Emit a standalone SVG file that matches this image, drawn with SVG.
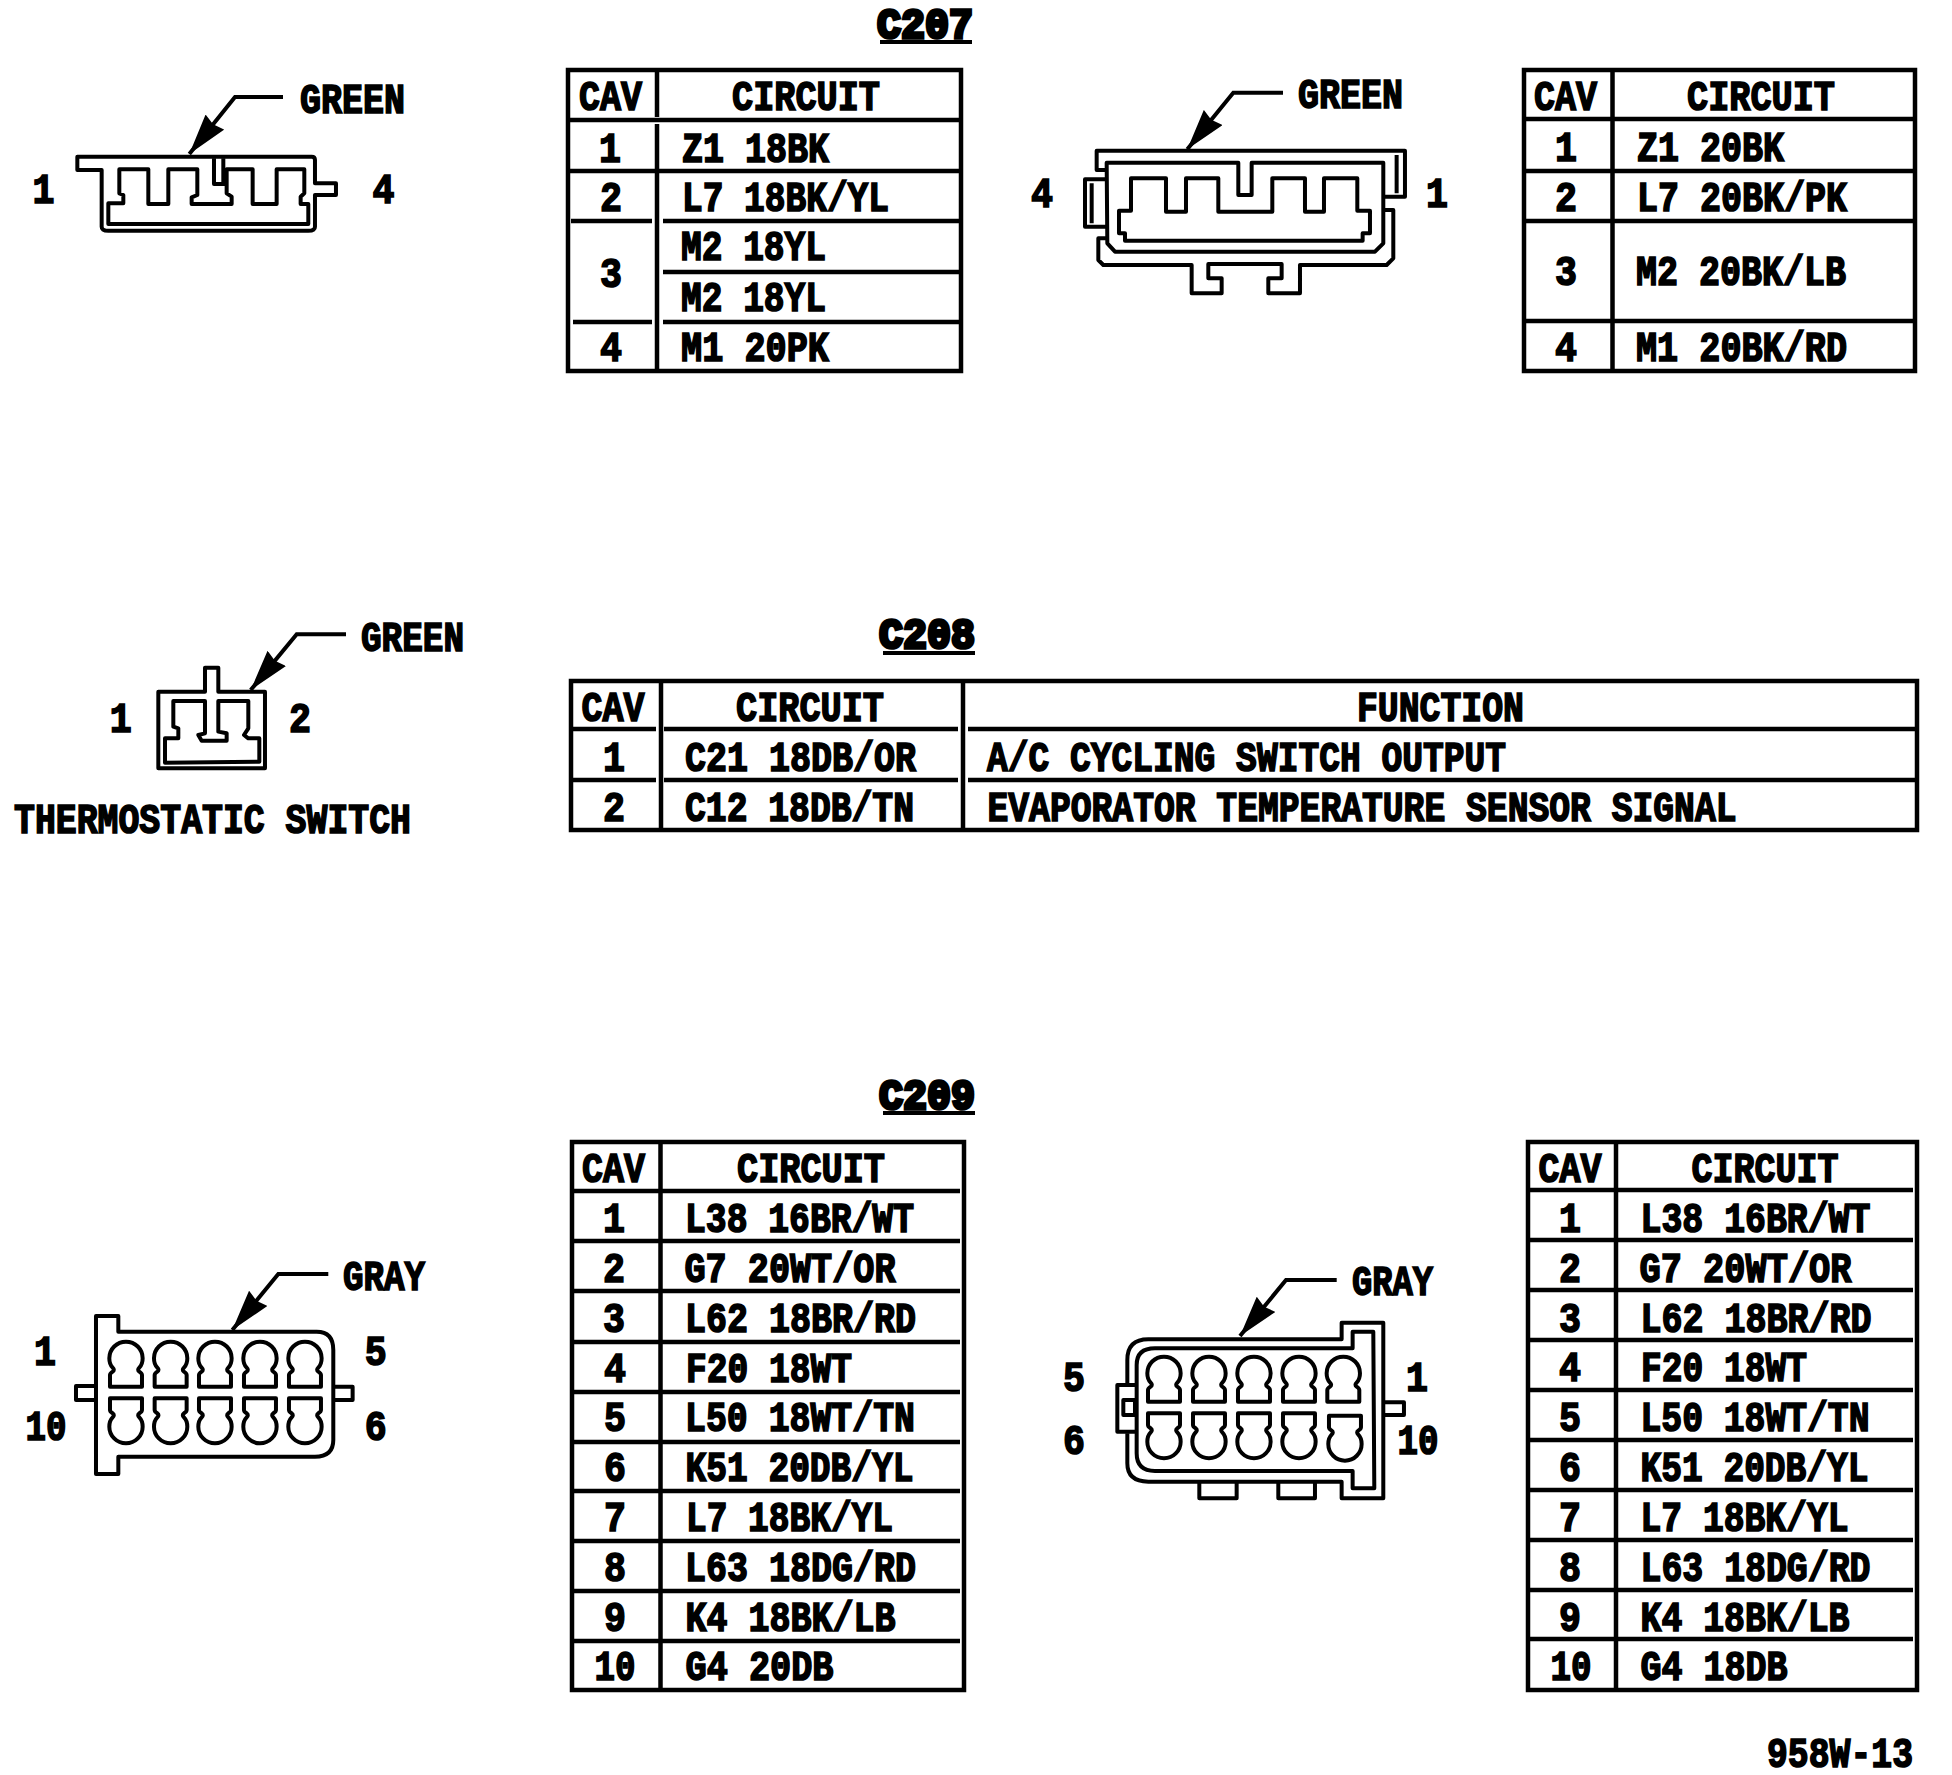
<svg xmlns="http://www.w3.org/2000/svg" xmlns:xlink="http://www.w3.org/1999/xlink" width="1952" height="1775" viewBox="0 0 1952 1775">
<style>
text{font-family:"Liberation Mono","DejaVu Sans Mono",monospace;font-weight:700;font-size:42px;fill:#000;stroke:#000;stroke-width:1.7}
.m{text-anchor:middle}
.h{stroke-width:3.6}
.tb{fill:none;stroke:#000;stroke-width:4.5}
.sh{fill:none;stroke:#000;stroke-width:12;stroke-linejoin:round}
.ld{fill:none;stroke:#000;stroke-width:4;marker-end:url(#ah)}
.ul{fill:none;stroke:#000;stroke-width:4}
</style>
<defs>
<marker id="ah" viewBox="0 0 41 24" refX="41" refY="12" markerWidth="41" markerHeight="24" markerUnits="userSpaceOnUse" orient="auto"><polygon points="0,0 41,12 0,24 3,12" fill="#000"/></marker>
<path id="key" d="M-48 135V100Q-48 95 -40 90Q-33 85 -40 78Q-50 68 -50 50A50 50 0 1 1 50 50Q50 68 40 78Q33 85 40 90Q48 95 48 100V135Z"/>
</defs>
<rect width="1952" height="1775" fill="#fff"/>

<g id="title-c207"><text class="h" x="877" y="38" textLength="96" lengthAdjust="spacingAndGlyphs">C207</text><path class="ul" d="M880 42H972"/></g>
<g id="title-c208"><text class="h" x="879" y="648" textLength="96" lengthAdjust="spacingAndGlyphs">C208</text><path class="ul" d="M883 653H975"/></g>
<g id="title-c209"><text class="h" x="879" y="1109" textLength="96" lengthAdjust="spacingAndGlyphs">C209</text><path class="ul" d="M883 1113H975"/></g>

<g id="connectors">
<path class="ld" d="M283 97H235L189.3 154"/>
<path class="ld" d="M1283 92.7H1233.3L1187.3 149.3"/>
<path class="ld" d="M346 634.3H296.7L250.7 690"/>
<path class="ld" d="M328.3 1274H278.3L232.3 1330"/>
<path class="ld" d="M1336.7 1280H1286L1240 1336"/>
</g>

<g id="conn-c207-left">
<g transform="translate(60 80) scale(.3333)">
<path class="sh" d="M52 230H755Q765 230 765 240V310H828V345H765V440Q765 452 745 452H145Q125 452 125 440V270H52Z"/>
<path class="sh" d="M145 432V370H190V345L178 340V268H265V372H325V268H412V345L395 352V372H515V350L500 340V268H578V372H650V268H733V340L722 350V372H745V432Z"/>
<path class="sh" d="M462 235V312H500M490 235V312"/>
</g>
<text x="300" y="113" textLength="105" lengthAdjust="spacingAndGlyphs">GREEN</text>
<text class="m" x="43.6" y="203" textLength="22" lengthAdjust="spacingAndGlyphs">1</text>
<text class="m" x="383.5" y="203" textLength="22" lengthAdjust="spacingAndGlyphs">4</text>
</g>

<g id="table-c207-a">
<rect class="tb" x="568" y="70" width="393" height="301"/>
<path class="tb" d="M657 70V117M657 124V371M570 120H959M570 171H959M571 221H652M663 221H959M663 272H959M573 322H652M663 322H959"/>
<text x="579" y="110" textLength="63" lengthAdjust="spacingAndGlyphs">CAV</text>
<text x="732" y="110" textLength="148" lengthAdjust="spacingAndGlyphs">CIRCUIT</text>
<text class="m" x="610" y="162" textLength="22" lengthAdjust="spacingAndGlyphs">1</text>
<text x="682" y="162" textLength="147" lengthAdjust="spacingAndGlyphs">Z1 18BK</text>
<text class="m" x="611" y="211" textLength="22" lengthAdjust="spacingAndGlyphs">2</text>
<text x="682" y="211" textLength="207" lengthAdjust="spacingAndGlyphs">L7 18BK/YL</text>
<text class="m" x="611" y="287" textLength="22" lengthAdjust="spacingAndGlyphs">3</text>
<text x="681" y="260" textLength="145" lengthAdjust="spacingAndGlyphs">M2 18YL</text>
<text x="681" y="311" textLength="145" lengthAdjust="spacingAndGlyphs">M2 18YL</text>
<text class="m" x="611" y="361" textLength="22" lengthAdjust="spacingAndGlyphs">4</text>
<text x="681" y="361" textLength="148" lengthAdjust="spacingAndGlyphs">M1 20PK</text>
</g>

<g id="conn-c207-right">
<g transform="translate(1070 80) scale(.3333)">
<path class="sh" d="M110 270H80V212H1005V350H945M980 225V340M110 298H45V440H110M65 310V430M110 475H85V540L100 555H365V640H455V595H415V552H635V595H595V640H690V555H950L970 535V390H945"/>
<path class="sh" d="M110 248H505V345H545V248H940V490L915 515H135L112 490Z"/>
<path class="sh" d="M183 295H288V395H348V295H445V395H607V295H705V395H762V295H862V392H900V460H878V482H165V460H147V392H183Z"/>
</g>
<text x="1298" y="108" textLength="105" lengthAdjust="spacingAndGlyphs">GREEN</text>
<text class="m" x="1042" y="207" textLength="22" lengthAdjust="spacingAndGlyphs">4</text>
<text class="m" x="1437" y="207" textLength="22" lengthAdjust="spacingAndGlyphs">1</text>
</g>

<g id="table-c207-b">
<rect class="tb" x="1524" y="70" width="391" height="301"/>
<path class="tb" d="M1612.5 70V371M1524 119H1915M1524 171H1915M1524 221H1915M1524 321H1915"/>
<text x="1534" y="110" textLength="63" lengthAdjust="spacingAndGlyphs">CAV</text>
<text x="1687" y="110" textLength="148" lengthAdjust="spacingAndGlyphs">CIRCUIT</text>
<text class="m" x="1566" y="161" textLength="22" lengthAdjust="spacingAndGlyphs">1</text>
<text x="1637" y="161" textLength="147" lengthAdjust="spacingAndGlyphs">Z1 20BK</text>
<text class="m" x="1566" y="211" textLength="22" lengthAdjust="spacingAndGlyphs">2</text>
<text x="1637" y="211" textLength="210" lengthAdjust="spacingAndGlyphs">L7 20BK/PK</text>
<text class="m" x="1566" y="285" textLength="22" lengthAdjust="spacingAndGlyphs">3</text>
<text x="1636" y="285" textLength="210" lengthAdjust="spacingAndGlyphs">M2 20BK/LB</text>
<text class="m" x="1566" y="361" textLength="22" lengthAdjust="spacingAndGlyphs">4</text>
<text x="1636" y="361" textLength="211" lengthAdjust="spacingAndGlyphs">M1 20BK/RD</text>
</g>

<g id="conn-thermostatic">
<g transform="translate(100 620) scale(.3333)">
<path class="sh" d="M315 215V143H355V215H495V445H175V215Z"/>
<path class="sh" d="M195 428V355H235V325L220 320V243H315V340L295 345L305 362H380V340L355 335V243H445V325L432 345L445 355H478V425Z"/>
</g>
<text x="361" y="651" textLength="103" lengthAdjust="spacingAndGlyphs">GREEN</text>
<text class="m" x="120.8" y="732" textLength="22" lengthAdjust="spacingAndGlyphs">1</text>
<text class="m" x="300" y="732" textLength="22" lengthAdjust="spacingAndGlyphs">2</text>
<text x="14" y="833" textLength="397" lengthAdjust="spacingAndGlyphs">THERMOSTATIC SWITCH</text>
</g>

<g id="table-c208">
<rect class="tb" x="571" y="681" width="1346" height="149"/>
<path class="tb" d="M661 681V830M963 681V830M573 729H656M664 729H958M968 729H1915M573 780H656M664 780H958M968 780H1915"/>
<text x="581.5" y="721" textLength="63" lengthAdjust="spacingAndGlyphs">CAV</text>
<text x="736" y="721" textLength="148" lengthAdjust="spacingAndGlyphs">CIRCUIT</text>
<text x="1357" y="721" textLength="167" lengthAdjust="spacingAndGlyphs">FUNCTION</text>
<text class="m" x="614" y="771" textLength="22" lengthAdjust="spacingAndGlyphs">1</text>
<text x="685" y="771" textLength="231" lengthAdjust="spacingAndGlyphs">C21 18DB/OR</text>
<text x="987" y="771" textLength="519" lengthAdjust="spacingAndGlyphs">A/C CYCLING SWITCH OUTPUT</text>
<text class="m" x="614" y="821" textLength="22" lengthAdjust="spacingAndGlyphs">2</text>
<text x="685" y="821" textLength="229" lengthAdjust="spacingAndGlyphs">C12 18DB/TN</text>
<text x="987.5" y="821" textLength="749" lengthAdjust="spacingAndGlyphs">EVAPORATOR TEMPERATURE SENSOR SIGNAL</text>
</g>

<g id="conn-c209-left">
<g transform="translate(0 1240) scale(.3333)">
<path class="sh" d="M288 228H355V275H950Q1000 275 1000 330V600Q1000 650 945 650H355V702H288Z"/>
<path class="sh" d="M285 438H228V480H285M1005 440H1058V480H1005"/>
<use class="sh" xlink:href="#key" href="#key" transform="translate(378 305)"/>
<use class="sh" xlink:href="#key" href="#key" transform="translate(512 305)"/>
<use class="sh" xlink:href="#key" href="#key" transform="translate(645 305)"/>
<use class="sh" xlink:href="#key" href="#key" transform="translate(780 305)"/>
<use class="sh" xlink:href="#key" href="#key" transform="translate(915 305)"/>
<use class="sh" xlink:href="#key" href="#key" transform="translate(378 610) scale(1 -1)"/>
<use class="sh" xlink:href="#key" href="#key" transform="translate(512 610) scale(1 -1)"/>
<use class="sh" xlink:href="#key" href="#key" transform="translate(645 610) scale(1 -1)"/>
<use class="sh" xlink:href="#key" href="#key" transform="translate(780 610) scale(1 -1)"/>
<use class="sh" xlink:href="#key" href="#key" transform="translate(915 610) scale(1 -1)"/>
</g>
<text x="343" y="1290" textLength="82" lengthAdjust="spacingAndGlyphs">GRAY</text>
<text class="m" x="45" y="1365" textLength="22" lengthAdjust="spacingAndGlyphs">1</text>
<text class="m" x="46" y="1440" textLength="41" lengthAdjust="spacingAndGlyphs">10</text>
<text class="m" x="375.7" y="1365" textLength="22" lengthAdjust="spacingAndGlyphs">5</text>
<text class="m" x="375.7" y="1440" textLength="22" lengthAdjust="spacingAndGlyphs">6</text>
</g>

<g id="table-c209-a">
<rect class="tb" x="572" y="1142" width="392" height="548"/>
<path class="tb" d="M660.5 1142V1690M574 1191H960M574 1241H960M574 1291H960M574 1342H960M574 1392H960M574 1442H960M574 1491H960M574 1541H960M574 1591H960M574 1641H960"/>
<text x="582" y="1182" textLength="63" lengthAdjust="spacingAndGlyphs">CAV</text>
<text x="737" y="1182" textLength="148" lengthAdjust="spacingAndGlyphs">CIRCUIT</text>
<text class="m" x="614" y="1232" textLength="22" lengthAdjust="spacingAndGlyphs">1</text>
<text x="685" y="1232" textLength="229" lengthAdjust="spacingAndGlyphs">L38 16BR/WT</text>
<text class="m" x="614" y="1282" textLength="22" lengthAdjust="spacingAndGlyphs">2</text>
<text x="684.5" y="1282" textLength="211" lengthAdjust="spacingAndGlyphs">G7 20WT/OR</text>
<text class="m" x="614" y="1332" textLength="22" lengthAdjust="spacingAndGlyphs">3</text>
<text x="685" y="1332" textLength="231" lengthAdjust="spacingAndGlyphs">L62 18BR/RD</text>
<text class="m" x="615" y="1382" textLength="22" lengthAdjust="spacingAndGlyphs">4</text>
<text x="686" y="1382" textLength="166" lengthAdjust="spacingAndGlyphs">F20 18WT</text>
<text class="m" x="615" y="1431" textLength="22" lengthAdjust="spacingAndGlyphs">5</text>
<text x="685" y="1431" textLength="230" lengthAdjust="spacingAndGlyphs">L50 18WT/TN</text>
<text class="m" x="615" y="1481" textLength="22" lengthAdjust="spacingAndGlyphs">6</text>
<text x="685.5" y="1481" textLength="228" lengthAdjust="spacingAndGlyphs">K51 20DB/YL</text>
<text class="m" x="615" y="1531" textLength="22" lengthAdjust="spacingAndGlyphs">7</text>
<text x="686" y="1531" textLength="207" lengthAdjust="spacingAndGlyphs">L7 18BK/YL</text>
<text class="m" x="615" y="1581" textLength="22" lengthAdjust="spacingAndGlyphs">8</text>
<text x="685" y="1581" textLength="231" lengthAdjust="spacingAndGlyphs">L63 18DG/RD</text>
<text class="m" x="615" y="1631" textLength="22" lengthAdjust="spacingAndGlyphs">9</text>
<text x="685.5" y="1631" textLength="210" lengthAdjust="spacingAndGlyphs">K4 18BK/LB</text>
<text class="m" x="615" y="1680" textLength="41" lengthAdjust="spacingAndGlyphs">10</text>
<text x="685.5" y="1680" textLength="148" lengthAdjust="spacingAndGlyphs">G4 20DB</text>
</g>

<g id="conn-c209-right">
<g transform="translate(1040 1240) scale(.3333)">
<path class="sh" d="M262 435V360Q262 298 325 298H905V248H1030V775H905V725H325Q262 725 262 670V580"/>
<path class="sh" d="M938 325H345Q290 325 290 375V640Q290 693 345 693H938V745H1003L1000 275H938Z"/>
<path class="sh" d="M285 435H232V575H285M250 480H285V525H250ZM1035 487H1092V525H1035M478 725V775H590V725M715 725V775H825V725"/>
<use class="sh" xlink:href="#key" href="#key" transform="translate(372 350)"/>
<use class="sh" xlink:href="#key" href="#key" transform="translate(507 350)"/>
<use class="sh" xlink:href="#key" href="#key" transform="translate(642 350)"/>
<use class="sh" xlink:href="#key" href="#key" transform="translate(777 350)"/>
<use class="sh" xlink:href="#key" href="#key" transform="translate(910 350)"/>
<use class="sh" xlink:href="#key" href="#key" transform="translate(372 655) scale(1 -1)"/>
<use class="sh" xlink:href="#key" href="#key" transform="translate(507 655) scale(1 -1)"/>
<use class="sh" xlink:href="#key" href="#key" transform="translate(642 655) scale(1 -1)"/>
<use class="sh" xlink:href="#key" href="#key" transform="translate(777 655) scale(1 -1)"/>
<use class="sh" xlink:href="#key" href="#key" transform="translate(915 662) scale(1 -1)"/>
</g>
<text x="1352" y="1295" textLength="81" lengthAdjust="spacingAndGlyphs">GRAY</text>
<text class="m" x="1074" y="1391" textLength="22" lengthAdjust="spacingAndGlyphs">5</text>
<text class="m" x="1074" y="1454" textLength="22" lengthAdjust="spacingAndGlyphs">6</text>
<text class="m" x="1417" y="1391" textLength="22" lengthAdjust="spacingAndGlyphs">1</text>
<text class="m" x="1418" y="1454" textLength="41" lengthAdjust="spacingAndGlyphs">10</text>
</g>

<g id="table-c209-b">
<rect class="tb" x="1528" y="1142" width="389" height="548"/>
<path class="tb" d="M1616 1142V1690M1530 1190H1913M1530 1240H1913M1530 1290H1913M1530 1340H1913M1530 1390H1913M1530 1440H1913M1530 1490H1913M1530 1540H1913M1530 1590H1913M1530 1639H1913"/>
<text x="1538.5" y="1182" textLength="63" lengthAdjust="spacingAndGlyphs">CAV</text>
<text x="1691.5" y="1182" textLength="147" lengthAdjust="spacingAndGlyphs">CIRCUIT</text>
<text class="m" x="1570" y="1232" textLength="22" lengthAdjust="spacingAndGlyphs">1</text>
<text x="1640.5" y="1232" textLength="230" lengthAdjust="spacingAndGlyphs">L38 16BR/WT</text>
<text class="m" x="1570" y="1282" textLength="22" lengthAdjust="spacingAndGlyphs">2</text>
<text x="1639.5" y="1282" textLength="212" lengthAdjust="spacingAndGlyphs">G7 20WT/OR</text>
<text class="m" x="1570" y="1332" textLength="22" lengthAdjust="spacingAndGlyphs">3</text>
<text x="1640.5" y="1332" textLength="231" lengthAdjust="spacingAndGlyphs">L62 18BR/RD</text>
<text class="m" x="1570" y="1381" textLength="22" lengthAdjust="spacingAndGlyphs">4</text>
<text x="1641" y="1381" textLength="166" lengthAdjust="spacingAndGlyphs">F20 18WT</text>
<text class="m" x="1570" y="1431" textLength="22" lengthAdjust="spacingAndGlyphs">5</text>
<text x="1640.5" y="1431" textLength="229" lengthAdjust="spacingAndGlyphs">L50 18WT/TN</text>
<text class="m" x="1570" y="1481" textLength="22" lengthAdjust="spacingAndGlyphs">6</text>
<text x="1640.5" y="1481" textLength="228" lengthAdjust="spacingAndGlyphs">K51 20DB/YL</text>
<text class="m" x="1570" y="1531" textLength="22" lengthAdjust="spacingAndGlyphs">7</text>
<text x="1640.5" y="1531" textLength="208" lengthAdjust="spacingAndGlyphs">L7 18BK/YL</text>
<text class="m" x="1570" y="1581" textLength="22" lengthAdjust="spacingAndGlyphs">8</text>
<text x="1640.5" y="1581" textLength="230" lengthAdjust="spacingAndGlyphs">L63 18DG/RD</text>
<text class="m" x="1570" y="1631" textLength="22" lengthAdjust="spacingAndGlyphs">9</text>
<text x="1640.5" y="1631" textLength="209" lengthAdjust="spacingAndGlyphs">K4 18BK/LB</text>
<text class="m" x="1571" y="1680" textLength="41" lengthAdjust="spacingAndGlyphs">10</text>
<text x="1640.5" y="1680" textLength="147" lengthAdjust="spacingAndGlyphs">G4 18DB</text>
</g>

<g id="figure-number"><text x="1767" y="1767" textLength="146" lengthAdjust="spacingAndGlyphs">958W-13</text></g>
</svg>
